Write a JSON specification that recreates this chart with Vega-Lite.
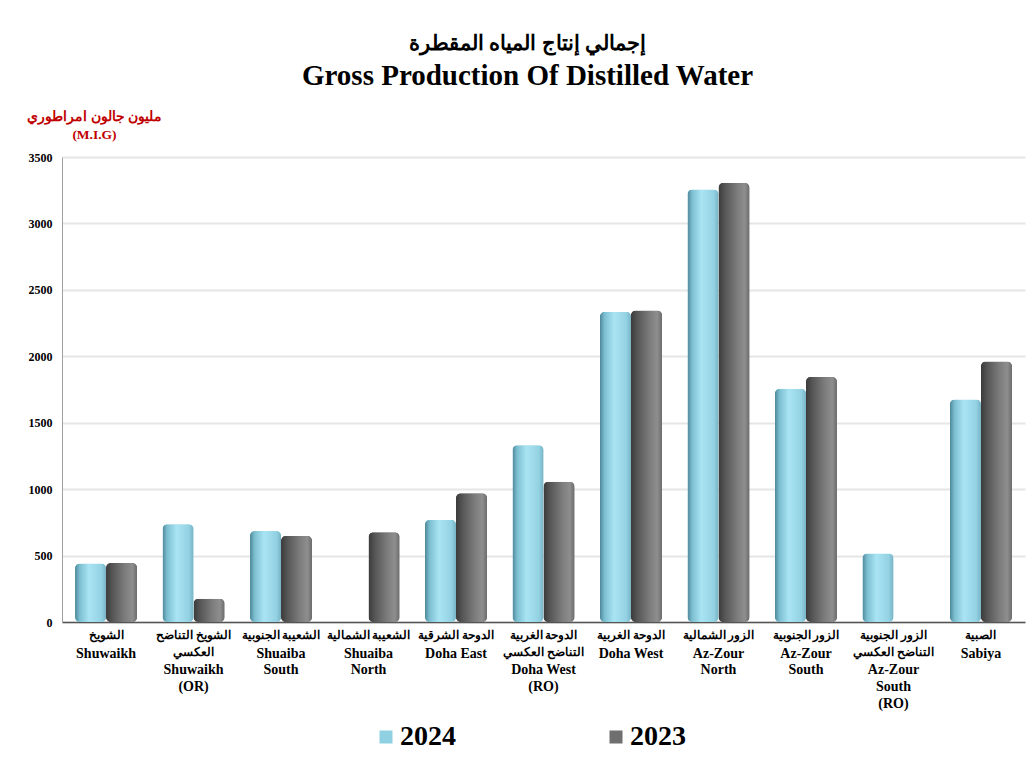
{
  "$schema": "https://vega.github.io/schema/vega-lite/v6.json",
  "autosize": "none",
  "padding": {"left": 62, "top": 157, "right": 10, "bottom": 141},
  "width": 963,
  "height": 465,
  "background": "white",
  "config": {
    "font": "Liberation Serif",
    "view": {"stroke": null}
  },
  "title": {
    "text": "إجمالي إنتاج المياه المقطرة",
    "subtitle": "Gross Production Of Distilled Water",
    "anchor": "middle",
    "dx": -16,
    "offset": 18,
    "font": "Liberation Serif",
    "fontSize": 21,
    "fontWeight": "bold",
    "color": "black",
    "subtitleFont": "Liberation Serif",
    "subtitleFontSize": 29,
    "subtitleFontWeight": "bold",
    "subtitleColor": "black",
    "subtitlePadding": 8
  },
  "data": {
    "values": [
      {"station": "الشويخ#Shuwaikh", "year": "2024", "value": 440},
      {"station": "الشويخ#Shuwaikh", "year": "2023", "value": 445},
      {"station": "الشويخ التناضح|العكسي#Shuwaikh|(OR)", "year": "2024", "value": 735},
      {"station": "الشويخ التناضح|العكسي#Shuwaikh|(OR)", "year": "2023", "value": 175},
      {"station": "الشعيبة الجنوبية#Shuaiba|South", "year": "2024", "value": 685},
      {"station": "الشعيبة الجنوبية#Shuaiba|South", "year": "2023", "value": 648},
      {"station": "الشعيبة الشمالية#Shuaiba|North", "year": "2023", "value": 675},
      {"station": "الدوحة الشرقية#Doha East", "year": "2024", "value": 770},
      {"station": "الدوحة الشرقية#Doha East", "year": "2023", "value": 970},
      {"station": "الدوحة الغربية|التناضح العكسي#Doha West|(RO)", "year": "2024", "value": 1330},
      {"station": "الدوحة الغربية|التناضح العكسي#Doha West|(RO)", "year": "2023", "value": 1055},
      {"station": "الدوحة الغربية#Doha West", "year": "2024", "value": 2335},
      {"station": "الدوحة الغربية#Doha West", "year": "2023", "value": 2345},
      {"station": "الزور الشمالية#Az-Zour|North", "year": "2024", "value": 3255},
      {"station": "الزور الشمالية#Az-Zour|North", "year": "2023", "value": 3305},
      {"station": "الزور الجنوبية#Az-Zour|South", "year": "2024", "value": 1755},
      {"station": "الزور الجنوبية#Az-Zour|South", "year": "2023", "value": 1845},
      {"station": "الزور الجنوبية|التناضح العكسي#Az-Zour|South|(RO)", "year": "2024", "value": 515},
      {"station": "الصبية#Sabiya", "year": "2024", "value": 1675},
      {"station": "الصبية#Sabiya", "year": "2023", "value": 1960}
    ]
  },
  "encoding": {
    "xOffset": {"field": "year", "type": "nominal", "scale": {"domain": ["2024", "2023"], "paddingInner": 0, "paddingOuter": 0}},
    "y": {
      "field": "value",
      "type": "quantitative",
      "scale": {"domain": [0, 3500], "nice": false},
      "axis": {
        "values": [0, 500, 1000, 1500, 2000, 2500, 3000, 3500],
        "format": "d",
        "title": ["مليون جالون امراطوري", "(M.I.G)"],
        "titleColor": "#c00000",
        "titleFont": "Liberation Serif",
        "titleFontSize": 13.5,
        "titleFontWeight": "bold",
        "titleAngle": 0,
        "titleAlign": "center",
        "titleBaseline": "top",
        "titleX": 32,
        "titleY": -48,
        "titleLineHeight": 18,
        "labelFont": "Liberation Serif",
        "labelFontSize": 12,
        "labelFontWeight": "bold",
        "labelColor": "black",
        "labelPadding": 10,
        "ticks": false,
        "domainColor": "#a0a0a0",
        "domainWidth": 1,
        "gridColor": "#e6e6e6",
        "gridWidth": 2
      }
    }
  },
  "resolve": {"axis": {"x": "independent", "y": "shared"}},
  "layer": [
    {
      "mark": {"type": "bar", "cornerRadius": 5},
      "encoding": {
        "x": {
          "field": "station",
          "type": "nominal",
          "sort": null,
          "scale": {"paddingInner": 0.291, "paddingOuter": 0.149},
          "axis": {
            "orient": "bottom",
            "title": null,
            "labelAngle": 0,
            "labelExpr": "split(split(datum.value, '#')[0], '|')",
            "labelFont": "Liberation Serif",
            "labelFontSize": 11.5,
            "labelFontWeight": "bold",
            "labelColor": "black",
            "labelLineHeight": 16.7,
            "labelPadding": 7.5,
            "labelBaseline": "top",
            "ticks": false,
            "domainColor": "#555555",
            "domainWidth": 1.5,
            "labelOverlap": false,
            "labelLimit": 200
          }
        },
        "color": {
          "field": "year",
          "type": "nominal",
          "scale": {"domain": ["2024", "2023"], "range": ["#8fd0e2", "#6f6f6f"]},
          "legend": {
            "title": null,
            "orient": "none",
            "direction": "horizontal",
            "legendX": 310,
            "legendY": 566,
            "symbolType": "square",
            "symbolSize": 169,
            "symbolStrokeWidth": 0,
            "labelFont": "Liberation Serif",
            "labelFontSize": 28,
            "labelFontWeight": "bold",
            "labelColor": "black",
            "labelOffset": 0,
            "columnPadding": 146
          }
        }
      }
    },
    {
      "transform": [{"filter": "datum.year == '2024'"}],
      "mark": {
        "type": "bar",
        "cornerRadius": 5,
        "fill": {
          "gradient": "linear", "x1": 0, "y1": 0, "x2": 1, "y2": 0,
          "stops": [
            {"offset": 0, "color": "#4d8798"},
            {"offset": 0.15, "color": "#7cbfd1"},
            {"offset": 0.45, "color": "#a9e4f3"},
            {"offset": 0.85, "color": "#93d2e3"},
            {"offset": 1, "color": "#78b3c4"}
          ]
        }
      },
      "encoding": {
        "x": {
          "field": "station",
          "type": "nominal",
          "sort": null,
          "axis": {
            "orient": "bottom",
            "title": null,
            "labelAngle": 0,
            "labelExpr": "split((length(split(split(datum.value, '#')[0], '|')) > 1 ? '\u200b|\u200b|' : '\u200b|') + split(datum.value, '#')[1], '|')",
            "labelFont": "Liberation Serif",
            "labelFontSize": 14,
            "labelFontWeight": "bold",
            "labelColor": "black",
            "labelLineHeight": 16.7,
            "labelPadding": 7.5,
            "labelBaseline": "top",
            "ticks": false,
            "domain": false,
            "labelOverlap": false,
            "labelLimit": 200
          }
        }
      }
    },
    {
      "transform": [{"filter": "datum.year == '2023'"}],
      "mark": {
        "type": "bar",
        "cornerRadius": 5,
        "fill": {
          "gradient": "linear", "x1": 0, "y1": 0, "x2": 1, "y2": 0,
          "stops": [
            {"offset": 0, "color": "#3a3a3a"},
            {"offset": 0.2, "color": "#555555"},
            {"offset": 0.6, "color": "#7c7c7c"},
            {"offset": 0.85, "color": "#8e8e8e"},
            {"offset": 1, "color": "#6c6c6c"}
          ]
        }
      },
      "encoding": {
        "x": {"field": "station", "type": "nominal", "sort": null, "axis": null}
      }
    }
  ]
}
